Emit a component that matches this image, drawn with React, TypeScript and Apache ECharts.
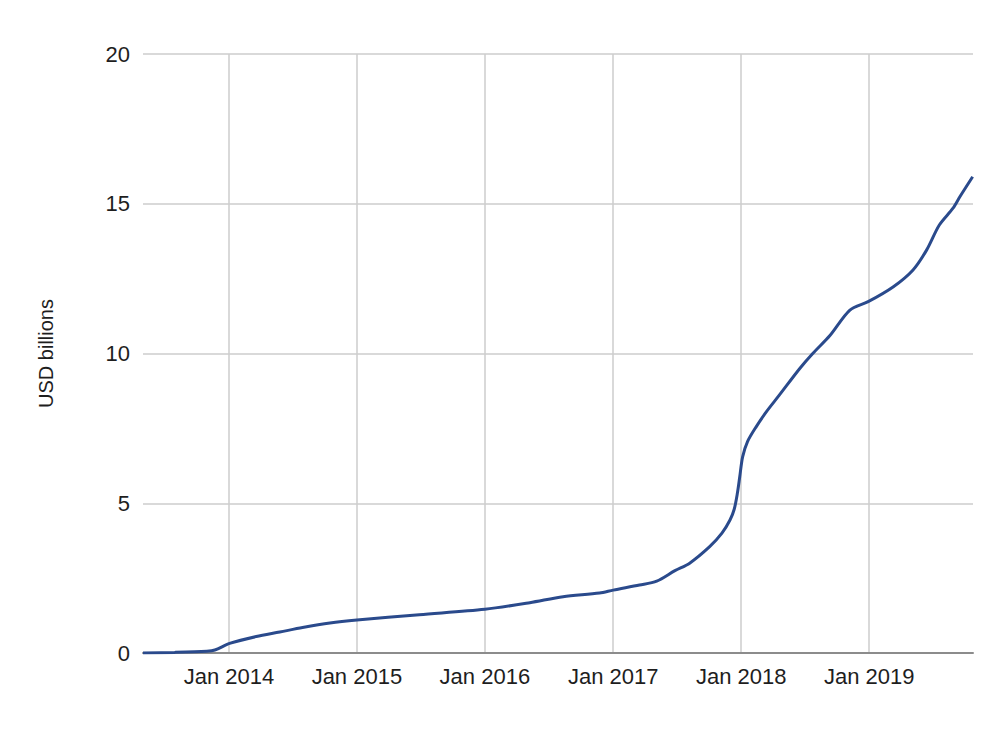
import React, { useEffect, useRef } from "react";
import * as echarts from "echarts";

const dates: string[] = [
  "2013-05-01", "2013-07-30", "2013-10-30", "2013-11-22", "2014-01-03",
  "2014-03-20", "2014-05-26", "2014-07-30", "2014-10-16", "2015-01-01",
  "2015-06-28", "2016-01-01", "2016-05-08", "2016-08-11", "2016-11-23",
  "2017-01-01", "2017-03-17", "2017-05-05", "2017-06-26", "2017-08-07",
  "2017-10-03", "2017-11-07", "2017-11-30", "2017-12-12", "2017-12-21",
  "2017-12-28", "2018-01-05", "2018-01-19", "2018-02-13", "2018-03-14",
  "2018-04-19", "2018-06-17", "2018-07-24", "2018-09-11", "2018-11-07",
  "2018-12-29", "2019-03-11", "2019-05-06", "2019-06-14", "2019-07-20",
  "2019-08-28", "2019-09-17", "2019-10-23",
];

const values: number[] = [
  0, 0.02, 0.06, 0.1, 0.32,
  0.55, 0.7, 0.85, 1.0, 1.1,
  1.28, 1.46, 1.68, 1.88, 2.0,
  2.1, 2.27, 2.4, 2.75, 3.0,
  3.55, 4.0, 4.44, 4.8, 5.33,
  5.9, 6.55, 7.06, 7.56, 8.06,
  8.6, 9.5, 10.0, 10.6, 11.45,
  11.73, 12.23, 12.79, 13.46, 14.29,
  14.85, 15.24, 15.9,
];

const tickDates: string[] = [
  "2014-01-01", "2015-01-01", "2016-01-01", "2017-01-01", "2018-01-01", "2019-01-01",
];
const monthNames = ["Jan", "Feb", "Mar", "Apr", "May", "Jun", "Jul", "Aug", "Sep", "Oct", "Nov", "Dec"];

const xMin = "2013-05-01";
const xMax = "2019-10-24";
const yAxisName = "USD billions";

const toTs = (d: string) => Date.UTC(+d.slice(0, 4), +d.slice(5, 7) - 1, +d.slice(8, 10));

export default function App() {
  const ref = useRef<HTMLDivElement>(null);
  useEffect(() => {
    document.body.style.margin = "0";
    if (!ref.current) return;
    const chart = echarts.init(ref.current, undefined, { renderer: "svg" });
    const ticks = tickDates.map(toTs);
    const fontFamily = "Liberation Sans, Arial, sans-serif";
    chart.setOption({
      animation: false,
      backgroundColor: "#ffffff",
      grid: { left: 143, right: 23, top: 54, bottom: 89, containLabel: false },
      xAxis: {
        type: "value",
        min: toTs(xMin),
        max: toTs(xMax),
        axisLine: { show: true, onZero: false, lineStyle: { color: "#8c8c8c", width: 2 } },
        axisTick: { show: false, customValues: ticks },
        splitLine: { show: true, lineStyle: { color: "#cccccc", width: 1.5 } },
        axisLabel: {
          customValues: ticks,
          color: "#1e1e1e",
          fontSize: 22,
          fontFamily,
          margin: 12,
          formatter: (v: number) => {
            const d = new Date(v);
            return monthNames[d.getUTCMonth()] + " " + d.getUTCFullYear();
          },
        },
      },
      yAxis: {
        type: "value",
        min: 0,
        max: 20,
        interval: 5,
        name: yAxisName,
        nameLocation: "middle",
        nameRotate: 90,
        nameGap: 87,
        nameTextStyle: { color: "#1e1e1e", fontSize: 20, fontFamily },
        axisLine: { show: false },
        axisTick: { show: false },
        splitLine: { show: true, lineStyle: { color: "#cccccc", width: 1.5 } },
        axisLabel: { color: "#1e1e1e", fontSize: 22, fontFamily, margin: 13 },
      },
      series: [
        {
          type: "line",
          data: dates.map((d, i) => [toTs(d), values[i]]),
          smooth: 0.3,
          showSymbol: false,
          lineStyle: { color: "#2a4a8c", width: 3 },
          itemStyle: { color: "#2a4a8c" },
        },
      ],
    });
    return () => chart.dispose();
  }, []);
  return <div ref={ref} style={{ width: 996, height: 742 }} />;
}
